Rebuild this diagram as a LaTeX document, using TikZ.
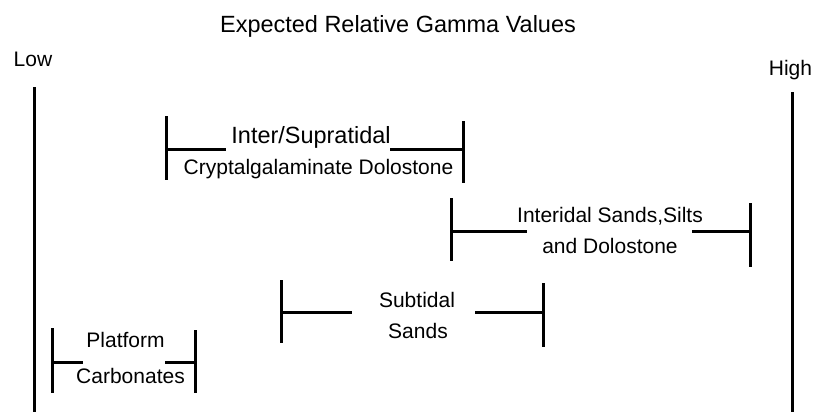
\documentclass[tikz,border=0pt]{standalone}
\usepackage{fontspec}
\setmainfont{Liberation Sans}
\begin{document}
\begin{tikzpicture}[x=0.75pt, y=-0.75pt, line width=2.25pt,
  txt/.style={anchor=base, inner sep=0pt, font=\fontsize{15.75}{18}\selectfont},
  big/.style={txt, font=\fontsize{17.6}{20}\selectfont}]

\useasboundingbox (0,0) rectangle (818,412);

\node[big] (title) at (398,32) {Expected Relative Gamma Values};
\node[txt] (low) at (33,66) {Low};
\node[txt] (high) at (790.5,75) {High};

\coordinate (low1) at (34.5,87);
\coordinate (low2) at (34.5,412);
\coordinate (high1) at (792,92);
\coordinate (high2) at (792,412);

\draw[-] (low1)--(low2);
\draw[-] (high1)--(high2);

% inter/supratidal
\node[big] (inter) at (311,143) {Inter/Supratidal};
\node[txt] (crypt) at (318.5,174) {Cryptalgalaminate Dolostone};
\coordinate (a1) at (166,116);
\coordinate (a2) at (166,180);
\coordinate (a3) at (166,149);
\coordinate (a4) at (226,149);
\coordinate (a5) at (390,149);
\coordinate (a6) at (463,149);
\coordinate (a7) at (463,121);
\coordinate (a8) at (463,183);
\draw[-] (a1)--(a2);
\draw[-] (a3)--(a4);
\draw[-] (a5)--(a6);
\draw[-] (a7)--(a8);

% interidal
\node[txt] (sands) at (610,222) {Interidal Sands,Silts};
\node[txt] (dolo) at (610,253) {and Dolostone};
\coordinate (b1) at (451,198);
\coordinate (b2) at (451,261);
\coordinate (b3) at (451,231);
\coordinate (b4) at (527,231);
\coordinate (b5) at (692,231);
\coordinate (b6) at (750,231);
\coordinate (b7) at (750,203);
\coordinate (b8) at (750,267);
\draw[-] (b1)--(b2);
\draw[-] (b3)--(b4);
\draw[-] (b5)--(b6);
\draw[-] (b7)--(b8);

% subtidal
\node[txt] (sub) at (417,307) {Subtidal};
\node[txt] (subsands) at (418,338) {Sands};
\coordinate (c1) at (281,280);
\coordinate (c2) at (281,343);
\coordinate (c3) at (281,312);
\coordinate (c4) at (352,312);
\coordinate (c5) at (475,312);
\coordinate (c6) at (543,312);
\coordinate (c7) at (543,283);
\coordinate (c8) at (543,347);
\draw[-] (c1)--(c2);
\draw[-] (c3)--(c4);
\draw[-] (c5)--(c6);
\draw[-] (c7)--(c8);

% platform
\node[txt] (plat) at (125.5,347) {Platform};
\node[txt] (carb) at (130.5,383) {Carbonates};
\coordinate (d1) at (52,328);
\coordinate (d2) at (52,393);
\coordinate (d3) at (52,362);
\coordinate (d4) at (83,362);
\coordinate (d5) at (165,362);
\coordinate (d6) at (195,362);
\coordinate (d7) at (195,330);
\coordinate (d8) at (195,393);
\draw[-] (d1)--(d2);
\draw[-] (d3)--(d4);
\draw[-] (d5)--(d6);
\draw[-] (d7)--(d8);

\end{tikzpicture}
\end{document}
